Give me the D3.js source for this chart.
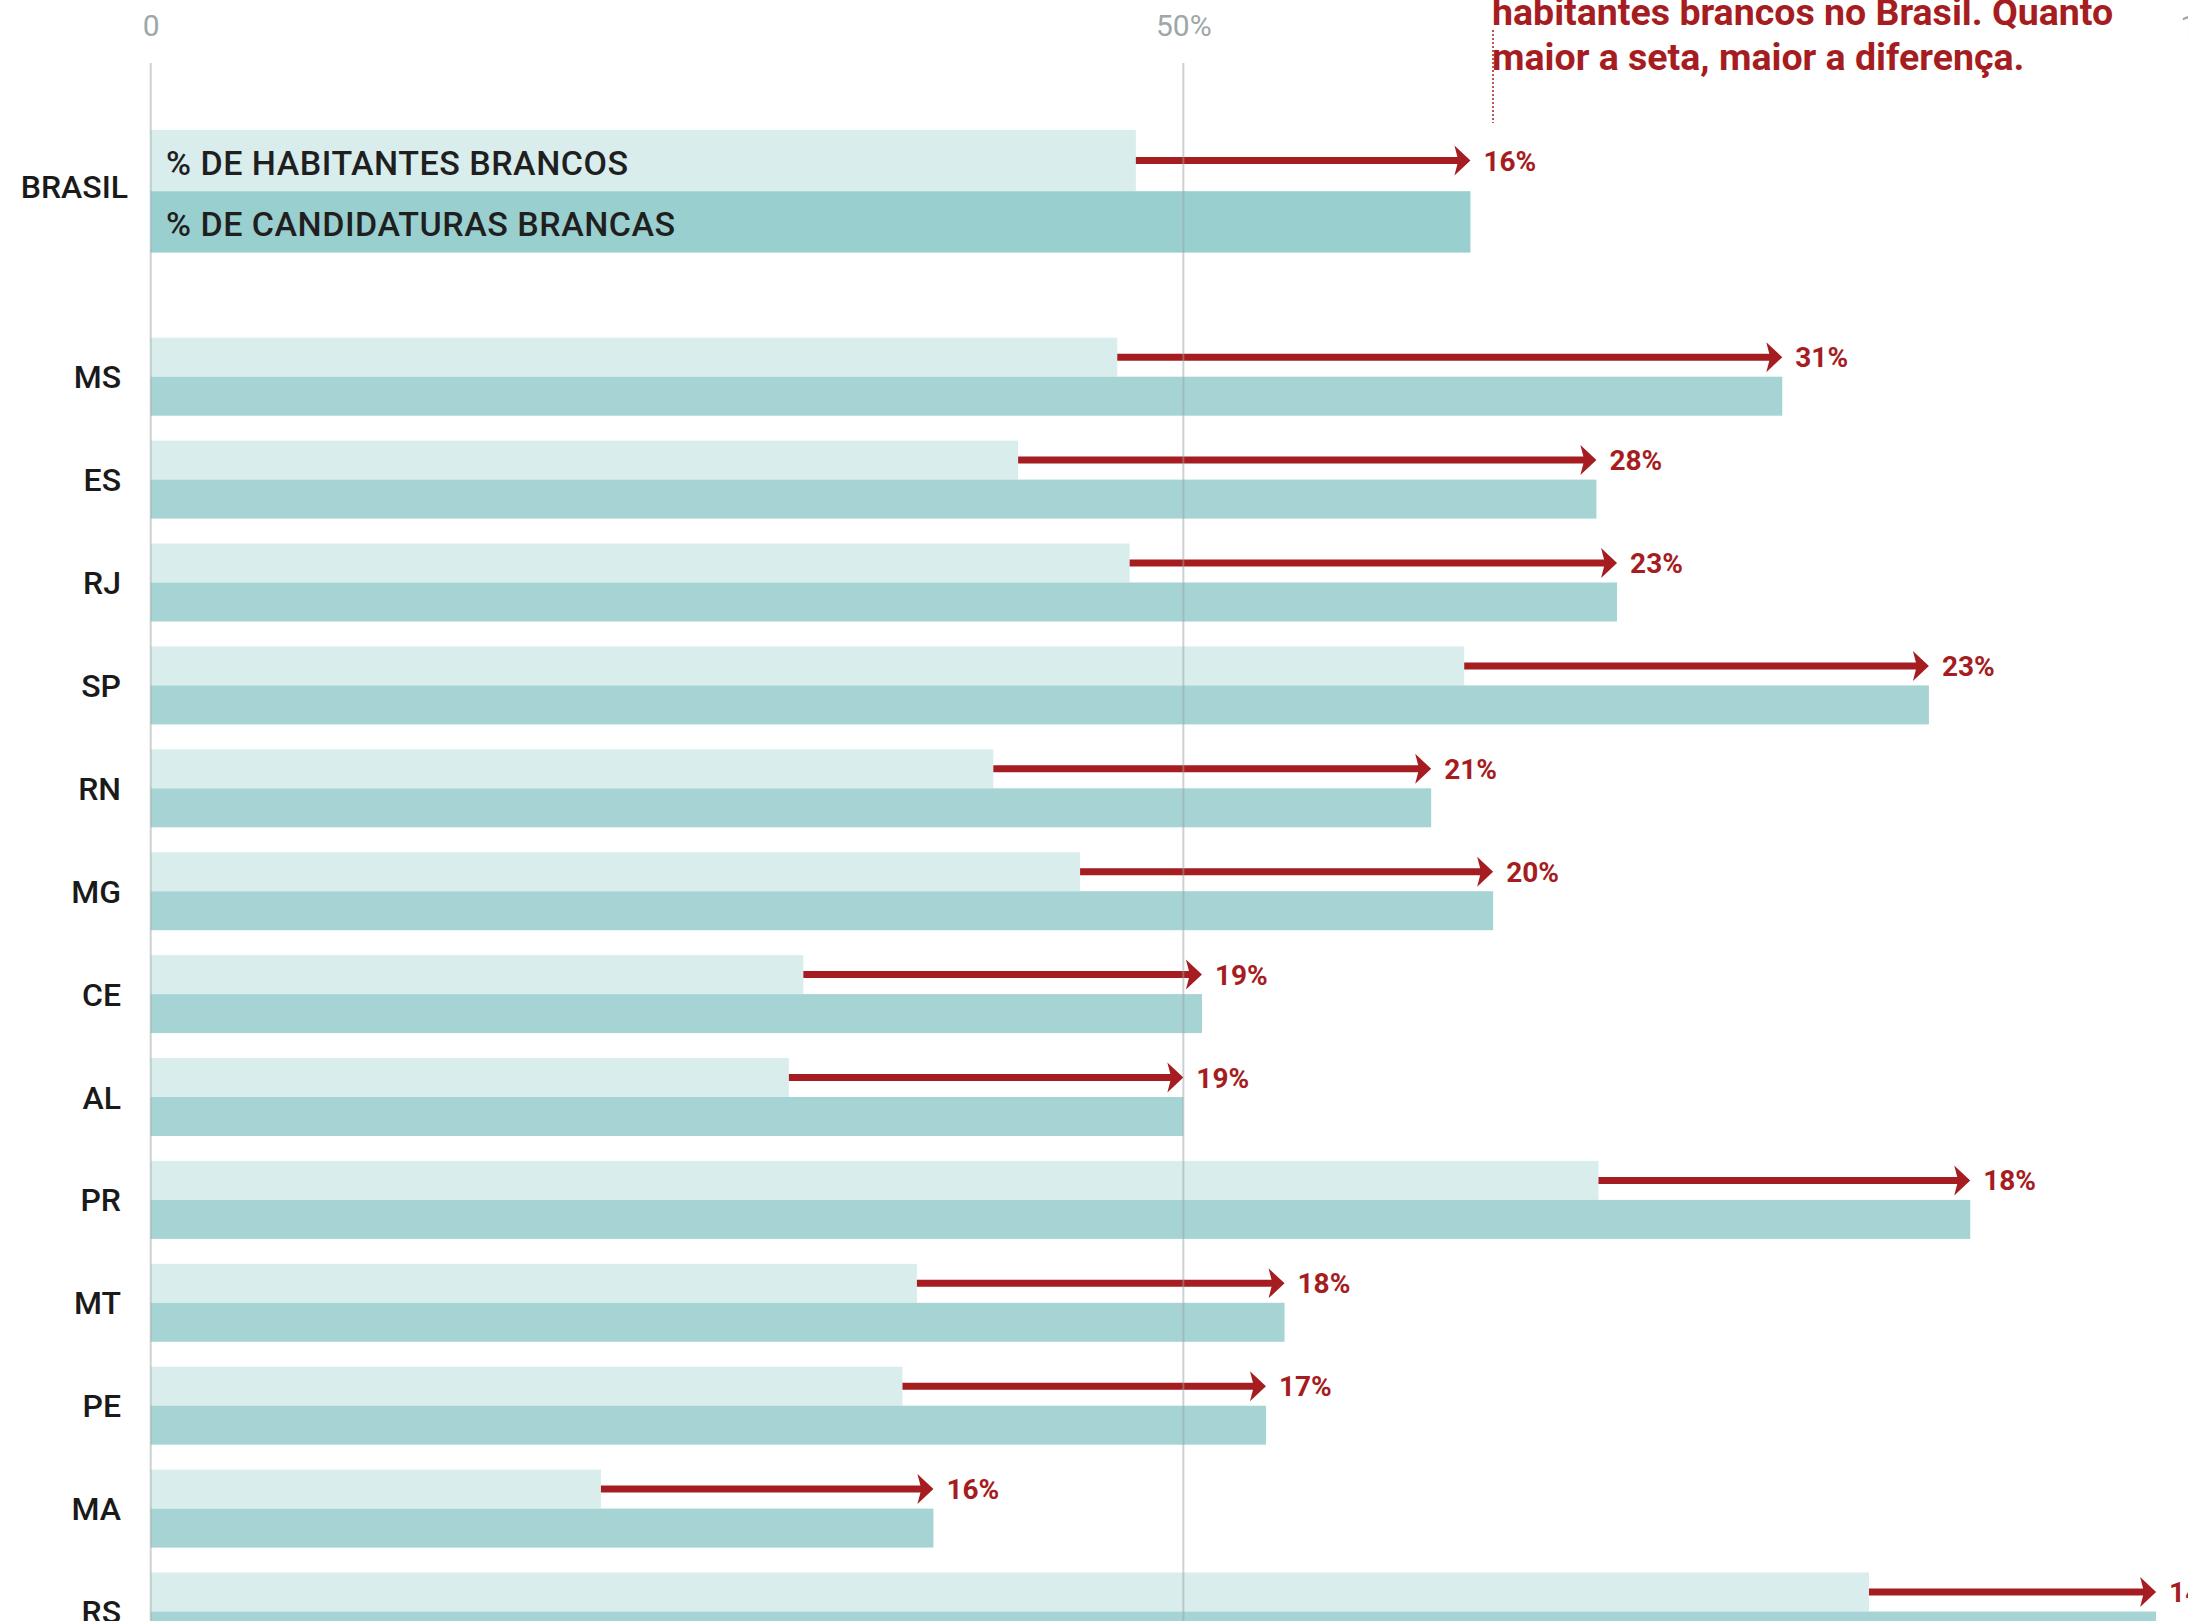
<!DOCTYPE html>
<html>
<head>
<meta charset="utf-8">
<script src="https://cdn.jsdelivr.net/npm/d3@7"></script>
<style>
  body { margin: 0; background: #fff; }
  svg { display: block; }
  text { font-family: Roboto, "Liberation Sans", sans-serif; }
</style>
</head>
<body>
<svg id="chart"></svg>
<script>

// data (percent)
var estados = ["MS", "ES", "RJ", "SP", "RN", "MG", "CE", "AL", "PR", "MT", "PE", "MA", "RS"];
var habitantes = [46.8, 42.0, 47.4, 63.6, 40.8, 45.0, 31.6, 30.9, 70.1, 37.1, 36.4, 21.8, 83.2];
var candidaturas = [79.0, 70.0, 71.0, 86.1, 62.0, 65.0, 50.9, 50.0, 88.1, 54.9, 54.0, 37.9, 97.1];
var diferencas = ["31%", "28%", "23%", "23%", "21%", "20%", "19%", "19%", "18%", "18%", "17%", "16%", "14%"];

var brasilHabitantes = 47.7;
var brasilCandidaturas = 63.9;
var brasilDiferenca = "16%";

var tickValues = [0, 50, 100];
var legendLabels = ["% DE HABITANTES BRANCOS", "% DE CANDIDATURAS BRANCAS"];
var notaLinhas = ["habitantes brancos no Brasil. Quanto", "maior a seta, maior a diferença."];

var W = 2188, H = 1621;
var RED = "#a51d21";

var svg = d3.select('#chart').attr('width', W).attr('height', H);

var x = d3.scaleLinear().domain([0, 100]).range([150.7, 2216]);

// rows
var yEstado = d3.scaleBand().domain(estados).range([337.7, 1650.5])
                .paddingInner(0.242).paddingOuter(0).align(0);
var yBrasil = d3.scaleBand().domain(["BRASIL"]).range([129.8, 252.6]);
var serie = d3.scaleBand().domain(["hab", "cand"]);

var rows = estados.map(function(e, i){
  return { nome: e, hab: habitantes[i], cand: candidaturas[i], dif: diferencas[i],
           top: yEstado(e), h: yEstado.bandwidth(), light: "#d9eded", dark: "#a6d4d4" };
});
rows.unshift({ nome: "BRASIL", hab: brasilHabitantes, cand: brasilCandidaturas, dif: brasilDiferenca,
               top: yBrasil("BRASIL"), h: yBrasil.bandwidth(), light: "#d9eded", dark: "#9acfcf" });

var g = svg.selectAll('g.row')
           .data(rows)
           .enter()
           .append('g')
           .attr('class', 'row')
           .attr('transform', function(d){ return 'translate(0,' + d.top + ')' });

// bars
g.append('rect')
  .attr('x', x(0))
  .attr('y', function(d){ serie.range([0, d.h]); return serie('hab') })
  .attr('width', function(d){ return x(d.hab) - x(0) })
  .attr('height', function(d){ return d.h / 2 })
  .attr('fill', function(d){ return d.light });

g.append('rect')
  .attr('x', x(0))
  .attr('y', function(d){ serie.range([0, d.h]); return serie('cand') })
  .attr('width', function(d){ return x(d.cand) - x(0) })
  .attr('height', function(d){ return d.h / 2 })
  .attr('fill', function(d){ return d.dark });

// grid lines (on top of bars)
svg.selectAll('line.grid')
   .data(tickValues)
   .enter()
   .append('line')
   .attr('class', 'grid')
   .attr('x1', function(d){ return x(d) })
   .attr('x2', function(d){ return x(d) })
   .attr('y1', 63)
   .attr('y2', H)
   .attr('stroke', '#9aa3a3')
   .attr('stroke-opacity', 0.5)
   .attr('stroke-width', 2);

// axis labels
var axis = d3.axisTop(x)
             .tickValues(tickValues)
             .tickSize(0)
             .tickPadding(0)
             .tickFormat(function(d){ return d === 0 ? "0" : d + "%" });

var ax = svg.append('g').attr('transform', 'translate(0,36)').call(axis);
ax.select('.domain').remove();
ax.selectAll('text')
  .attr('fill', '#9ea7a7')
  .style('font-family', 'Roboto, sans-serif')
  .style('font-size', '30px');

// arrows
var headW = 16, headH = 15, lineW = 7, notch = 3;
g.append('path')
  .attr('d', function(d){
    var y = d.h / 4;
    var x1 = x(d.hab), x2 = x(d.cand);
    return 'M' + x1 + ',' + (y - lineW/2) +
           'L' + (x2 - headW + notch) + ',' + (y - lineW/2) +
           'L' + (x2 - headW) + ',' + (y - headH) +
           'L' + x2 + ',' + y +
           'L' + (x2 - headW) + ',' + (y + headH) +
           'L' + (x2 - headW + notch) + ',' + (y + lineW/2) +
           'L' + x1 + ',' + (y + lineW/2) + 'Z';
  })
  .attr('fill', RED);

// difference labels
g.append('text')
  .attr('x', function(d){ return x(d.cand) + 13 })
  .attr('y', function(d){ return d.h / 4 })
  .attr('dy', '0.36em')
  .attr('fill', RED)
  .style('font-size', '28px')
  .style('font-weight', 'bold')
  .text(function(d){ return d.dif });

// row names
g.append('text')
  .attr('x', function(d){ return d.nome === "BRASIL" ? 128 : 121 })
  .attr('y', function(d){ return d.nome === "BRASIL" ? d.h / 2 - 5 : d.h / 2 })
  .attr('dy', '0.36em')
  .attr('text-anchor', 'end')
  .attr('fill', '#1a1a1a')
  .style('font-size', '32px')
  .style('font-weight', 500)
  .text(function(d){ return d.nome });

// legend inside the BRASIL bars
svg.selectAll('text.legend')
   .data(legendLabels)
   .enter()
   .append('text')
   .attr('class', 'legend')
   .attr('x', 166)
   .attr('y', function(d, i){
     serie.range([0, yBrasil.bandwidth()]);
     return yBrasil("BRASIL") + serie(i === 0 ? 'hab' : 'cand') + serie.bandwidth() / 2 + 2;
   })
   .attr('dy', '0.36em')
   .attr('fill', '#1f1f1f')
   .style('font-size', '34px')
   .style('font-weight', 500)
   .style('letter-spacing', '0.5px')
   .text(function(d){ return d });

// note at the top
svg.append('line')
   .attr('x1', 1493).attr('x2', 1493)
   .attr('y1', 30).attr('y2', 123)
   .attr('stroke', RED)
   .attr('stroke-width', 1.5)
   .attr('stroke-dasharray', '2,2');

svg.selectAll('text.nota')
   .data(notaLinhas)
   .enter()
   .append('text')
   .attr('class', 'nota')
   .attr('x', 1492)
   .attr('y', function(d, i){ return 25 + i * 45 })
   .attr('fill', RED)
   .style('font-size', '37.5px')
   .style('font-weight', 'bold')
   .text(function(d){ return d });

</script>
</body>
</html>
